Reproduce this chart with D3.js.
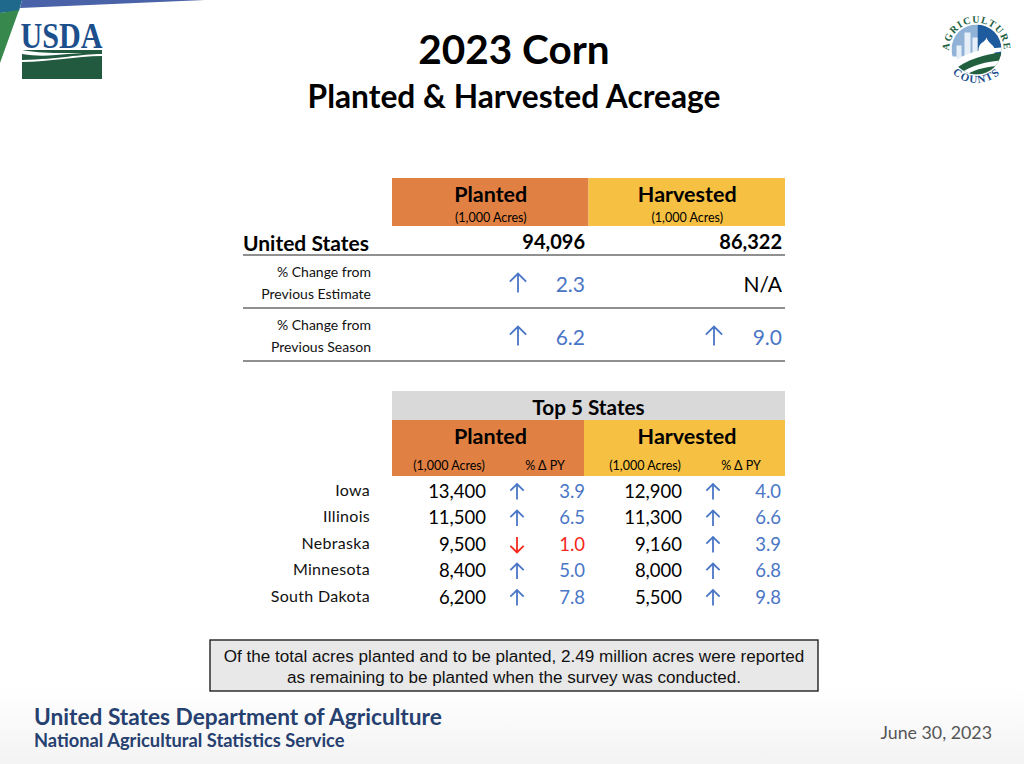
<!DOCTYPE html>
<html>
<head>
<meta charset="utf-8">
<title>2023 Corn</title>
<script src="https://cdn.jsdelivr.net/npm/d3@7"></script>
<style>
	html, body { margin: 0; padding: 0; background: #fff; }
	svg { display: block; }
	text { font-family: Lato, "Open Sans", sans-serif; fill: #000; }
</style>
</head>
<body>
<div id="chart"></div>
<script>
// national table
const nationalRows = ["United States", "% Change from|Previous Estimate", "% Change from|Previous Season"];
const nationalPlanted = [94096, 2.3, 6.2];
const nationalHarvested = [86322, null, 9.0];

// top 5 states table
const states = ["Iowa", "Illinois", "Nebraska", "Minnesota", "South Dakota"];
const statePlanted = [13400, 11500, 9500, 8400, 6200];
const statePlantedChange = [3.9, 6.5, -1.0, 5.0, 7.8];
const stateHarvested = [12900, 11300, 9160, 8000, 5500];
const stateHarvestedChange = [4.0, 6.6, 3.9, 6.8, 9.8];

const groups = ["Planted", "Harvested"];
const groupColor = d3.scaleOrdinal().domain(groups).range(["#e08043", "#f6c042"]);
const noteLines = [
	"Of the total acres planted and to be planted, 2.49 million acres were reported",
	"as remaining to be planted when the survey was conducted."
];

const UP = "#4a76c6", DOWN = "#f5281e";
const fmtInt = d3.format(","), fmtPct = d3.format(".1f");

const svg = d3.select("#chart").append("svg").attr("width", 1024).attr("height", 764);

// page background, fades a little at the bottom
const defs = svg.append("defs");
const grad = defs.append("linearGradient").attr("id", "pageBg").attr("x1", 0).attr("x2", 0).attr("y1", 0).attr("y2", 1);
grad.append("stop").attr("offset", "0.9").attr("stop-color", "#ffffff");
grad.append("stop").attr("offset", "1").attr("stop-color", "#f3f3f3");
svg.append("rect").attr("width", 1024).attr("height", 764).attr("fill", "url(#pageBg)");

function addText(parent, str, x, y, size, opts) {
	opts = opts || {};
	return parent.append("text")
		.attr("x", x).attr("y", y)
		.attr("text-anchor", opts.anchor || "middle")
		.attr("dominant-baseline", "central")
		.attr("font-size", size)
		.attr("font-weight", opts.weight || "normal")
		.style("fill", opts.fill || "#000")
		.style("font-family", opts.family || null)
		.text(str);
}

// thin arrow, pointing up for a gain and down for a loss
function addArrow(parent, x, y, value, size) {
	const dir = value < 0 ? 1 : -1;
	const h = size / 2, p = d3.path();
	p.moveTo(x, y - dir * h);
	p.lineTo(x, y + dir * h);
	p.moveTo(x - h * 0.86, y + dir * h * 0.14);
	p.lineTo(x, y + dir * h);
	p.lineTo(x + h * 0.86, y + dir * h * 0.14);
	parent.append("path").attr("d", p.toString()).attr("fill", "none")
		.attr("stroke", value < 0 ? DOWN : UP).attr("stroke-width", 1.8);
}

/* corner decoration */
const corner = svg.append("g");
corner.append("path").attr("d", "M0,0H22L19,11L0,13Z").attr("fill", "#1f6a8c");
corner.append("path").attr("d", "M0,13L19,10L0,63Z").attr("fill", "#37884c");
corner.append("path").attr("d", "M22,0H205L20,8Z").attr("fill", "#4a62a8");

/* USDA logo */
const usda = svg.append("g");
addText(usda, "USDA", 61.5, 36, 36, { family: "'Liberation Serif', serif", fill: "#1c4f8c", weight: "bold" })
	.attr("textLength", 82).attr("lengthAdjust", "spacingAndGlyphs");
usda.append("path").attr("d", "M22,50H102V53H60C44,53 32,52 22,50Z").attr("fill", "#215a3f");
usda.append("path").attr("d", "M22,54C34,56 44,56 56,55C72,54 88,52 102,52V54C80,54 60,59 22,60Z").attr("fill", "#215a3f");
usda.append("path").attr("d", "M22,62C50,62 76,56 102,56V79H22Z").attr("fill", "#215a3f");

/* Agriculture Counts seal */
const seal = svg.append("g").attr("transform", "translate(976.5,49.5)");
defs.append("clipPath").attr("id", "sealClip").append("circle").attr("r", 25);
const inner = seal.append("g").attr("clip-path", "url(#sealClip)");
inner.append("rect").attr("x", -25).attr("y", -25).attr("width", 50).attr("height", 50).attr("fill", "#ffffff");
inner.append("rect").attr("x", -25).attr("y", -25).attr("width", 26).attr("height", 32).attr("fill", "#8fb2d6");
inner.append("rect").attr("x", 1).attr("y", -25).attr("width", 24).attr("height", 32).attr("fill", "#1d5a9e");
inner.selectAll("rect.tower").data([[-20, -4, 5], [-12, -17, 6], [-4, -12, 5]]).enter().append("rect")
	.attr("class", "tower").attr("x", d => d[0]).attr("y", d => d[1]).attr("width", d => d[2]).attr("height", 30)
	.attr("fill", "#e6eff7");
inner.append("path").attr("d", "M2,2C2,-8 8,-6 10,-12C12,-6 16,-6 18,-1V8H2Z").attr("fill", "#ffffff");
inner.append("path").attr("d", "M-25,14C-10,2 8,-1 25,-2V2C8,4 -8,10 -22,20Z").attr("fill", "#ffffff");
inner.append("path").attr("d", "M-25,22C-8,9 8,5 25,3V25H-25Z").attr("fill", "#215f3f");
inner.append("path").attr("d", "M-18,25C-4,15 10,12 25,11V25Z").attr("fill", "#ffffff");
inner.append("path").attr("d", "M-10,25C0,19 12,17 25,16V25Z").attr("fill", "#215f3f");
defs.append("path").attr("id", "sealTop").attr("d", "M-27,6A27.5,27.5 0 1 1 27,6");
defs.append("path").attr("id", "sealBottom").attr("d", "M-32,11A34,34 0 0 0 32,11");
seal.append("text").attr("font-size", 10).attr("font-weight", "bold").style("font-family", "'Liberation Serif', serif").style("fill", "#215f3f")
	.attr("letter-spacing", 1.2)
	.append("textPath").attr("href", "#sealTop").attr("startOffset", "50%").attr("text-anchor", "middle").text("AGRICULTURE");
seal.append("text").attr("font-size", 11).attr("font-weight", "bold").style("font-family", "'Liberation Serif', serif").style("fill", "#1d4f8f")
	.attr("letter-spacing", 1.2)
	.append("textPath").attr("href", "#sealBottom").attr("startOffset", "50%").attr("text-anchor", "middle").text("COUNTS");

/* titles */
addText(svg, "2023 Corn", 514, 48, 40.5, { weight: "bold" });
addText(svg, "Planted & Harvested Acreage", 514, 96, 31.7, { weight: "bold" });

/* national table */
const topHead = svg.append("g");
const topX = d3.scaleBand().domain(groups).range([392, 785]);
topHead.selectAll("rect").data(groups).enter().append("rect")
	.attr("x", d => topX(d)).attr("y", 178).attr("width", topX.bandwidth()).attr("height", 48)
	.attr("fill", d => groupColor(d));
groups.forEach(g => {
	const cx = topX(g) + topX.bandwidth() / 2 + 0.5;
	addText(topHead, g, cx, 194, 21.5, { weight: "bold" });
	addText(topHead, "(1,000 Acres)", cx, 217, 12.5);
});

const topY = d3.scaleOrdinal().domain(nationalRows).range([242, 282, 335]);
const topRule = d3.scaleOrdinal().domain(nationalRows).range([255, 308, 361]);
const topRow = svg.append("g");
nationalRows.forEach((r, i) => {
	const y = topY(r);
	topRow.append("line").attr("x1", 243).attr("x2", 785).attr("y1", topRule(r)).attr("y2", topRule(r))
		.attr("stroke", "#222").attr("stroke-width", 1.2);
	if (i === 0) {
		addText(topRow, r, 243, y, 21, { anchor: "start", weight: "bold" });
		addText(topRow, fmtInt(nationalPlanted[i]), 585, y - 1, 20, { anchor: "end", weight: "bold" });
		addText(topRow, fmtInt(nationalHarvested[i]), 782, y - 1, 20, { anchor: "end", weight: "bold" });
		return;
	}
	r.split("|").forEach((line, k) => addText(topRow, line, 371, y - 11 + k * 22, 14, { anchor: "end", fill: "#111" }));
	[[nationalPlanted[i], 518, 585], [nationalHarvested[i], 714, 782]].forEach(c => {
		if (c[0] === null) {
			addText(topRow, "N/A", c[2], y + 1, 21, { anchor: "end" });
		} else {
			addArrow(topRow, c[1], y + 1, c[0], 19);
			addText(topRow, fmtPct(Math.abs(c[0])), c[2], y + 1, 21, { anchor: "end", fill: UP });
		}
	});
});

/* top 5 states table */
const low = svg.append("g");
low.append("rect").attr("x", 392).attr("y", 391).attr("width", 393).attr("height", 29).attr("fill", "#d9d9d9");
addText(low, "Top 5 States", 588.5, 407, 20.7, { weight: "bold" });
const lowX = d3.scaleOrdinal().domain(groups).range([392, 584]);
const lowW = d3.scaleOrdinal().domain(groups).range([192, 201]);
low.selectAll("rect.group").data(groups).enter().append("rect").attr("class", "group")
	.attr("x", d => lowX(d)).attr("y", 420).attr("width", d => lowW(d)).attr("height", 56)
	.attr("fill", d => groupColor(d));
groups.forEach(g => {
	const i = groups.indexOf(g);
	addText(low, g, lowX(g) + (i ? 103 : 98.5), 436, 21.5, { weight: "bold" });
	addText(low, "(1,000 Acres)", i ? 645 : 449, 465, 12.5);
	addText(low, "% Δ PY", i ? 741 : 545, 465, 12.5);
});

const rowY = d3.scaleBand().domain(states).range([477, 609.5]);
const rows = svg.append("g");
states.forEach((s, i) => {
	const y = rowY(s) + rowY.bandwidth() / 2;
	addText(rows, s, 370, y - 1, 16, { anchor: "end", fill: "#111" }).attr("letter-spacing", 0.3);
	[[statePlanted[i], statePlantedChange[i], 486, 517, 585],
	 [stateHarvested[i], stateHarvestedChange[i], 682, 713, 781]].forEach(c => {
		const col = c[1] < 0 ? DOWN : UP;
		addText(rows, fmtInt(c[0]), c[2], y + 0.5, 18.5, { anchor: "end" });
		addArrow(rows, c[3], y + 1.5, c[1], 15.5);
		addText(rows, fmtPct(Math.abs(c[1])), c[4], y + 0.5, 18.5, { anchor: "end", fill: col });
	});
});

/* note box */
const note = svg.append("g");
note.append("rect").attr("x", 210).attr("y", 640).attr("width", 608).attr("height", 51)
	.attr("fill", "#e8e8e8").attr("stroke", "#222").attr("stroke-width", 1.4);
const noteY = d3.scalePoint().domain(noteLines).range([656, 677]);
noteLines.forEach(l => addText(note, l, 514, noteY(l), 17.1, { family: "'Liberation Sans', Arial, sans-serif", fill: "#111" }));

/* footer */
addText(svg, "United States Department of Agriculture", 34, 716, 22.7, { anchor: "start", weight: "bold", fill: "#26406f" });
addText(svg, "National Agricultural Statistics Service", 34, 740, 18.3, { anchor: "start", weight: "bold", fill: "#26406f" });
addText(svg, "June 30, 2023", 992, 732, 17.8, { anchor: "end", fill: "#555" });
</script>
</body>
</html>
